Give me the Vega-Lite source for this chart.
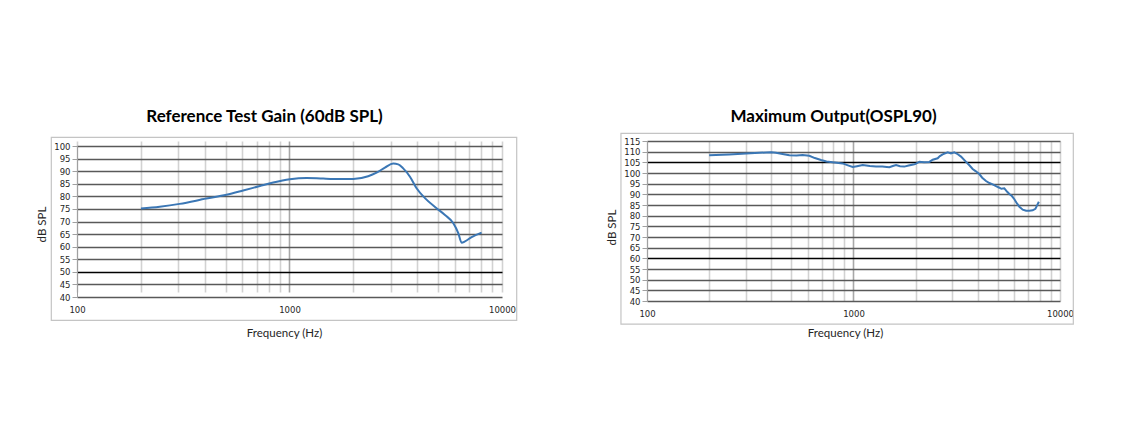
{
  "$schema": "https://vega.github.io/schema/vega-lite/v6.json",
  "background": "white",
  "padding": {"left": 36, "top": 108, "right": 0, "bottom": 0},
  "spacing": 88,
  "config": {
    "view": {"stroke": null},
    "axis": {"labelFont": "DejaVu Sans", "labelFontSize": 8.5, "labelColor": "#262626", "titleFont": "Lato", "titleFontSize": 11.5, "titleFontWeight": "normal", "titleColor": "#262626"},
    "title": {"font": "Lato", "fontSize": 17, "fontWeight": "bold", "color": "#000000", "frame": "group", "anchor": "middle"}
  },
  "datasets": {
    "gain": [
      {"f": 200, "db": 75.2}, {"f": 245, "db": 75.9}, {"f": 304, "db": 77.0}, {"f": 406, "db": 79.1},
      {"f": 505, "db": 80.6}, {"f": 605, "db": 82.3}, {"f": 725, "db": 84.1}, {"f": 838, "db": 85.5},
      {"f": 1004, "db": 86.8}, {"f": 1202, "db": 87.3}, {"f": 1441, "db": 87.05}, {"f": 1727, "db": 86.9},
      {"f": 1995, "db": 86.9}, {"f": 2345, "db": 88.0}, {"f": 2569, "db": 89.4}, {"f": 2812, "db": 91.4},
      {"f": 3077, "db": 93.0}, {"f": 3250, "db": 92.7}, {"f": 3428, "db": 91.1}, {"f": 3689, "db": 87.8},
      {"f": 3963, "db": 83.2}, {"f": 4339, "db": 79.3}, {"f": 4922, "db": 75.3}, {"f": 5391, "db": 72.6},
      {"f": 5902, "db": 69.3}, {"f": 6226, "db": 65.4}, {"f": 6457, "db": 61.6}, {"f": 6694, "db": 62.1},
      {"f": 7194, "db": 63.8}, {"f": 8018, "db": 65.6}
    ],
    "ospl": [
      {"f": 200, "db": 108.3}, {"f": 250, "db": 108.7}, {"f": 302, "db": 109.1}, {"f": 350, "db": 109.5},
      {"f": 399, "db": 109.7}, {"f": 421, "db": 109.5}, {"f": 460, "db": 108.8}, {"f": 489, "db": 108.3},
      {"f": 530, "db": 108.2}, {"f": 567, "db": 108.4}, {"f": 611, "db": 108.1}, {"f": 650, "db": 107.0},
      {"f": 696, "db": 106.1}, {"f": 740, "db": 105.4}, {"f": 793, "db": 105.0}, {"f": 886, "db": 104.5},
      {"f": 940, "db": 103.6}, {"f": 991, "db": 102.8}, {"f": 1040, "db": 103.2}, {"f": 1108, "db": 103.75},
      {"f": 1200, "db": 103.3}, {"f": 1285, "db": 103.0}, {"f": 1380, "db": 103.0}, {"f": 1450, "db": 102.8},
      {"f": 1492, "db": 102.7}, {"f": 1550, "db": 103.3}, {"f": 1607, "db": 103.75}, {"f": 1680, "db": 103.2},
      {"f": 1763, "db": 103.0}, {"f": 1850, "db": 103.5}, {"f": 1971, "db": 104.1}, {"f": 2000, "db": 104.3},
      {"f": 2084, "db": 105.3}, {"f": 2200, "db": 105.0}, {"f": 2329, "db": 105.2}, {"f": 2420, "db": 106.2},
      {"f": 2556, "db": 106.9}, {"f": 2620, "db": 107.9}, {"f": 2703, "db": 108.75}, {"f": 2858, "db": 109.7},
      {"f": 2965, "db": 109.2}, {"f": 3077, "db": 109.7}, {"f": 3200, "db": 108.8}, {"f": 3316, "db": 107.7},
      {"f": 3508, "db": 105.2}, {"f": 3650, "db": 103.5}, {"f": 3776, "db": 101.9}, {"f": 3900, "db": 100.9},
      {"f": 4066, "db": 99.5}, {"f": 4200, "db": 97.8}, {"f": 4382, "db": 96.25}, {"f": 4550, "db": 95.3},
      {"f": 4721, "db": 94.7}, {"f": 4900, "db": 93.8}, {"f": 5085, "db": 93.1}, {"f": 5200, "db": 92.6},
      {"f": 5375, "db": 92.8}, {"f": 5550, "db": 91.2}, {"f": 5684, "db": 90.2}, {"f": 5850, "db": 89.2},
      {"f": 6012, "db": 87.7}, {"f": 6200, "db": 85.6}, {"f": 6358, "db": 84.2}, {"f": 6600, "db": 82.8},
      {"f": 6850, "db": 82.3}, {"f": 7100, "db": 82.3}, {"f": 7374, "db": 82.5}, {"f": 7600, "db": 83.2},
      {"f": 7900, "db": 86.5}
    ]
  },
  "hconcat": [
    {
      "width": 425,
      "height": 156,
      "title": {"text": "Reference Test Gain (60dB SPL)", "offset": 10.3, "dx": -25},
      "layer": [
        {
          "data": {"name": "gain"},
          "mark": {"type": "line", "color": "#3b77b5", "strokeWidth": 2, "interpolate": "monotone"},
          "encoding": {
            "x": {
              "field": "f", "type": "quantitative",
              "scale": {"type": "log", "domain": [100, 10000], "nice": false},
              "axis": {
                "values": [100, 200, 300, 400, 500, 600, 700, 800, 900, 1000, 2000, 3000, 4000, 5000, 6000, 7000, 8000, 9000, 10000],
                "format": "d",
                "labelExpr": "(datum.value == 100 || datum.value == 1000 || datum.value == 10000) ? datum.label : ''",
                "grid": true,
                "gridColor": {"condition": {"test": "datum.value == 1000", "value": "#a8a8a8"}, "value": "#d2d2d2"},
                "gridWidth": 1.6,
                "domain": false, "ticks": false,
                "labelPadding": 8, "labelFlush": false, "labelOverlap": false,
                "title": "Frequency (Hz)", "titlePadding": 14, "titleX": 207
              }
            },
            "y": {
              "field": "db", "type": "quantitative",
              "scale": {"domain": [40, 100], "nice": false, "zero": false, "range": [156, 5]},
              "axis": {
                "values": [40, 45, 50, 55, 60, 65, 70, 75, 80, 85, 90, 95, 100],
                "grid": true,
                "gridColor": {"condition": {"test": "datum.value == 50", "value": "#000000"}, "value": "#595959"},
                "gridWidth": 1.3,
                "domainColor": "#a0a0a0", "tickColor": "#a0a0a0", "tickSize": 5,
                "labelPadding": 2, "labelOverlap": false,
                "title": "dB SPL", "titlePadding": 6, "titleY": 83
              }
            }
          }
        },
        {
          "data": {"values": [{}]},
          "mark": {"type": "rect", "fill": "transparent", "stroke": "#c4c4c4", "strokeWidth": 1.2},
          "encoding": {
            "x": {
              "datum": 75.7, "type": "quantitative",
              "axis": {
                "values": [100, 200, 300, 400, 500, 600, 700, 800, 900, 1000, 2000, 3000, 4000, 5000, 6000, 7000, 8000, 9000, 10000],
                "format": "d",
                "labelExpr": "(datum.value == 100 || datum.value == 1000 || datum.value == 10000) ? datum.label : ''",
                "grid": true,
                "gridColor": {"condition": {"test": "datum.value == 1000", "value": "#a8a8a8"}, "value": "#d2d2d2"},
                "gridWidth": 1.6,
                "domain": false, "ticks": false,
                "labelPadding": 8, "labelFlush": false, "labelOverlap": false,
                "title": "Frequency (Hz)", "titlePadding": 14, "titleX": 207
              }
            },
            "x2": {"datum": 11727},
            "y": {
              "datum": 103.45, "type": "quantitative",
              "axis": {
                "values": [40, 45, 50, 55, 60, 65, 70, 75, 80, 85, 90, 95, 100],
                "grid": true,
                "gridColor": {"condition": {"test": "datum.value == 50", "value": "#000000"}, "value": "#595959"},
                "gridWidth": 1.3,
                "domainColor": "#a0a0a0", "tickColor": "#a0a0a0", "tickSize": 5,
                "labelPadding": 2, "labelOverlap": false,
                "title": "dB SPL", "titlePadding": 6, "titleY": 83
              }
            },
            "y2": {"datum": 30.72}
          }
        }
      ]
    },
    {
      "width": 413,
      "height": 160,
      "title": {"text": "Maximum Output(OSPL90)", "offset": 6.3, "dx": -20},
      "layer": [
        {
          "data": {"name": "ospl"},
          "mark": {"type": "line", "color": "#3b77b5", "strokeWidth": 2},
          "encoding": {
            "x": {
              "field": "f", "type": "quantitative",
              "scale": {"type": "log", "domain": [100, 10000], "nice": false},
              "axis": {
                "values": [100, 200, 300, 400, 500, 600, 700, 800, 900, 1000, 2000, 3000, 4000, 5000, 6000, 7000, 8000, 9000, 10000],
                "format": "d",
                "labelExpr": "(datum.value == 100 || datum.value == 1000 || datum.value == 10000) ? datum.label : ''",
                "grid": true,
                "gridColor": {"condition": {"test": "datum.value == 1000", "value": "#a8a8a8"}, "value": "#d2d2d2"},
                "gridWidth": 1.6,
                "domain": false, "ticks": false,
                "labelPadding": 8, "labelFlush": false, "labelOverlap": false,
                "title": "Frequency (Hz)", "titlePadding": 10, "titleX": 198
              }
            },
            "y": {
              "field": "db", "type": "quantitative",
              "scale": {"domain": [40, 115], "nice": false, "zero": false},
              "axis": {
                "values": [40, 45, 50, 55, 60, 65, 70, 75, 80, 85, 90, 95, 100, 105, 110, 115],
                "grid": true,
                "gridColor": {"condition": {"test": "datum.value == 60 || datum.value == 105", "value": "#000000"}, "value": "#595959"},
                "gridWidth": 1.3,
                "domainColor": "#a0a0a0", "tickColor": "#a0a0a0", "tickSize": 5,
                "labelPadding": 2, "labelOverlap": false,
                "title": "dB SPL", "titlePadding": 6, "titleY": 86
              }
            }
          }
        },
        {
          "data": {"values": [{}]},
          "mark": {"type": "rect", "fill": "transparent", "stroke": "#c4c4c4", "strokeWidth": 1.2},
          "encoding": {
            "x": {
              "datum": 74.8, "type": "quantitative",
              "axis": {
                "values": [100, 200, 300, 400, 500, 600, 700, 800, 900, 1000, 2000, 3000, 4000, 5000, 6000, 7000, 8000, 9000, 10000],
                "format": "d",
                "labelExpr": "(datum.value == 100 || datum.value == 1000 || datum.value == 10000) ? datum.label : ''",
                "grid": true,
                "gridColor": {"condition": {"test": "datum.value == 1000", "value": "#a8a8a8"}, "value": "#d2d2d2"},
                "gridWidth": 1.6,
                "domain": false, "ticks": false,
                "labelPadding": 8, "labelFlush": false, "labelOverlap": false,
                "title": "Frequency (Hz)", "titlePadding": 10, "titleX": 198
              }
            },
            "x2": {"datum": 11600},
            "y": {
              "datum": 118.6, "type": "quantitative",
              "axis": {
                "values": [40, 45, 50, 55, 60, 65, 70, 75, 80, 85, 90, 95, 100, 105, 110, 115],
                "grid": true,
                "gridColor": {"condition": {"test": "datum.value == 60 || datum.value == 105", "value": "#000000"}, "value": "#595959"},
                "gridWidth": 1.3,
                "domainColor": "#a0a0a0", "tickColor": "#a0a0a0", "tickSize": 5,
                "labelPadding": 2, "labelOverlap": false,
                "title": "dB SPL", "titlePadding": 6, "titleY": 86
              }
            },
            "y2": {"datum": 29.2}
          }
        }
      ]
    }
  ]
}
